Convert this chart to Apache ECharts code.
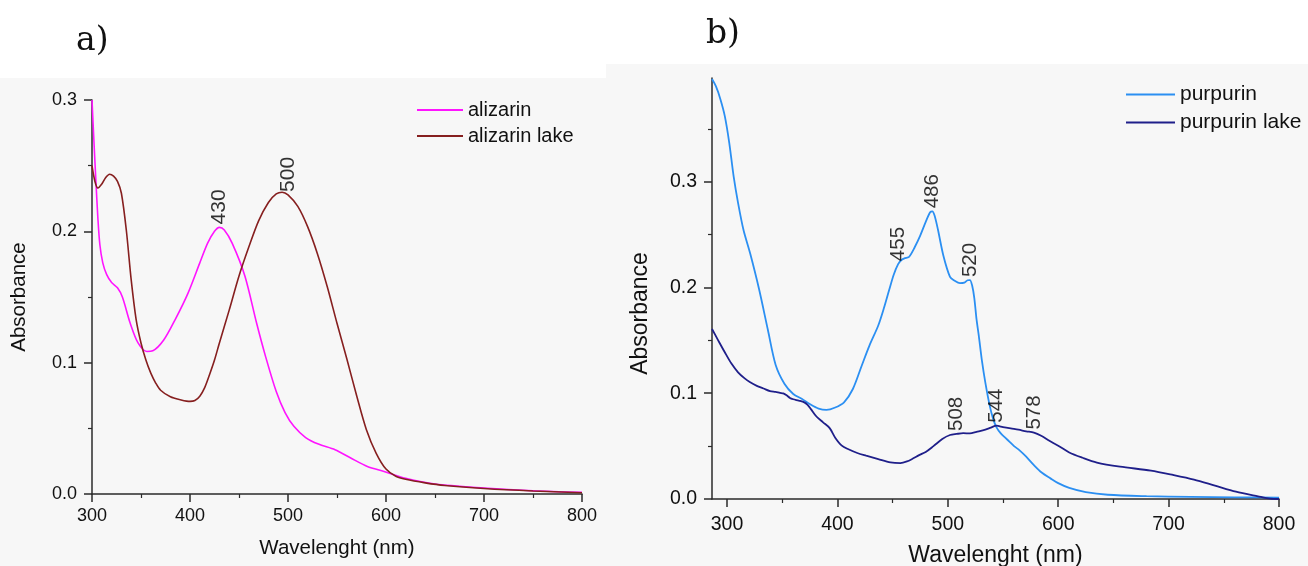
<!DOCTYPE html>
<html>
<head>
<meta charset="utf-8">
<title>UV-Vis absorption spectra</title>
<script src="https://cdn.jsdelivr.net/npm/echarts@6/dist/echarts.min.js"></script>
<style>
  html, body { margin: 0; padding: 0; background: #ffffff; }
  #chart { width: 1308px; height: 566px; }
</style>
</head>
<body>
<div id="chart"></div>
<script>
// ---- panel a) alizarin ----
const alizarinWl  = [300, 302, 304, 306, 308, 311, 315, 320, 326, 331, 339, 347, 356, 362, 373, 385, 398, 410, 418, 425, 430, 435, 443, 456, 468, 477, 488, 497, 506, 518, 531, 548, 564, 581, 598, 620, 650, 700, 750, 800];
const alizarinAbs = [0.300, 0.268, 0.238, 0.210, 0.190, 0.176, 0.167, 0.161, 0.157, 0.150, 0.130, 0.115, 0.1085, 0.109, 0.117, 0.133, 0.153, 0.176, 0.191, 0.200, 0.203, 0.201, 0.191, 0.166, 0.130, 0.105, 0.078, 0.062, 0.0515, 0.043, 0.038, 0.0337, 0.0274, 0.021, 0.0172, 0.012, 0.0076, 0.0046, 0.0025, 0.0013];

const alizarinLakeWl  = [300, 303, 306, 310, 314, 318, 322, 326, 330, 335, 340, 345, 350, 355, 360, 365, 370, 380, 390, 400, 405, 410, 415, 420, 425, 430, 440, 450, 460, 470, 480, 488, 494, 500, 510, 520, 530, 540, 550, 560, 570, 580, 590, 600, 610, 620, 640, 660, 700, 750, 800];
const alizarinLakeAbs = [0.250, 0.238, 0.233, 0.236, 0.241, 0.2435, 0.242, 0.238, 0.229, 0.201, 0.163, 0.133, 0.115, 0.102, 0.092, 0.0845, 0.079, 0.074, 0.0718, 0.0705, 0.0712, 0.0745, 0.081, 0.091, 0.102, 0.115, 0.140, 0.166, 0.188, 0.208, 0.222, 0.2285, 0.2298, 0.2277, 0.219, 0.2036, 0.183, 0.158, 0.130, 0.103, 0.075, 0.049, 0.031, 0.019, 0.0135, 0.0112, 0.0085, 0.0065, 0.0042, 0.0023, 0.001];

// ---- panel b) purpurin ----
const purpurinWl  = [286.4, 290, 294, 298, 302, 306, 310, 315, 321, 329, 337, 344, 352, 360, 368, 375, 383, 390, 398, 406, 414, 422, 429, 437, 442, 447, 451, 455, 458, 462, 465, 470, 475, 480, 484, 486, 488, 491, 496, 502, 506, 511, 515, 518, 520, 522, 524, 526, 528, 531, 534, 538, 541, 544, 548, 552, 556, 560, 565, 571, 578, 585, 593, 600, 610, 625, 645, 680, 720, 760, 800];
const purpurinAbs = [0.397, 0.390, 0.378, 0.362, 0.337, 0.305, 0.280, 0.254, 0.232, 0.1985, 0.160, 0.127, 0.109, 0.0993, 0.0945, 0.0898, 0.0855, 0.0842, 0.0865, 0.0914, 0.104, 0.126, 0.145, 0.164, 0.180, 0.198, 0.212, 0.222, 0.226, 0.228, 0.229, 0.238, 0.249, 0.262, 0.271, 0.272, 0.268, 0.255, 0.230, 0.210, 0.2065, 0.204, 0.2045, 0.2068, 0.207, 0.202, 0.190, 0.170, 0.155, 0.130, 0.110, 0.088, 0.076, 0.068, 0.062, 0.058, 0.054, 0.050, 0.046, 0.040, 0.032, 0.025, 0.0195, 0.015, 0.0105, 0.0065, 0.004, 0.0027, 0.002, 0.0016, 0.0013];

const purpurinLakeWl  = [286.4, 292, 298, 304, 310, 316, 321, 327, 333, 339, 344, 348, 351, 354, 357, 360, 365, 370, 373, 376, 381, 387, 393, 398, 404, 410, 418, 426, 437, 448, 457, 463, 468, 474, 480, 487, 495, 502, 508, 514, 520, 526, 534, 539, 544, 550, 557, 564, 571, 578, 585, 592, 600, 610, 622, 635, 656, 684, 704, 723, 742, 761, 781, 792, 800];
const purpurinLakeAbs = [0.1607, 0.150, 0.1387, 0.128, 0.1198, 0.114, 0.1103, 0.107, 0.1045, 0.102, 0.1012, 0.1003, 0.0998, 0.098, 0.0955, 0.0943, 0.093, 0.0914, 0.089, 0.085, 0.078, 0.0725, 0.067, 0.058, 0.0504, 0.047, 0.0435, 0.041, 0.0378, 0.0347, 0.0340, 0.0355, 0.038, 0.0415, 0.0445, 0.050, 0.0567, 0.0605, 0.0615, 0.0622, 0.062, 0.0635, 0.0656, 0.0675, 0.0693, 0.068, 0.0667, 0.0655, 0.064, 0.0628, 0.0595, 0.055, 0.0504, 0.044, 0.039, 0.0345, 0.0306, 0.0268, 0.0227, 0.0183, 0.0126, 0.0069, 0.0025, 0.0003, 0.0];

// band maxima marked on each spectrum (nm)
const alizarinPeaks     = [430];
const alizarinLakePeaks = [500];
const purpurinPeaks     = [455, 486, 520];
const purpurinLakePeaks = [508, 544, 578];

// tick labels
const xTicks      = [300, 400, 500, 600, 700, 800];
const xMinorTicks = [350, 450, 550, 650, 750];
const yTicksA      = [0.0, 0.1, 0.2, 0.3];
const yMinorTicksA = [0.05, 0.15, 0.25];
const yTicksB      = [0.0, 0.1, 0.2, 0.3];
const yMinorTicksB = [0.05, 0.15, 0.25, 0.35];

const pairs = (xs, ys) => xs.map((x, i) => [x, ys[i]]);
const peakPoints = (peaks, xs, ys) => peaks.map(p => [p, ys[xs.indexOf(p)]]);

const FONT = '"Liberation Sans", Arial, sans-serif';
const SERIF = '"DejaVu Serif", "Liberation Serif", serif';
const AXIS_COLOR = '#2b2b2b';
const TEXT_COLOR = '#111111';

function mainXAxis(gridIndex, min, fontSize, margin, nameSize, nameGap) {
  return {
    type: 'value', gridIndex, min, max: 800,
    axisLine: { show: true, onZero: false, lineStyle: { color: AXIS_COLOR, width: 1.5 } },
    axisTick: { show: true, length: 8, customValues: xTicks, lineStyle: { color: AXIS_COLOR, width: 1.5 } },
    axisLabel: { customValues: xTicks, fontSize, margin, color: TEXT_COLOR, fontFamily: FONT },
    splitLine: { show: false },
    name: 'Wavelenght (nm)', nameLocation: 'middle', nameGap,
    nameTextStyle: { fontSize: nameSize, color: TEXT_COLOR, fontFamily: FONT }
  };
}
function minorXAxis(gridIndex, min) {
  return {
    type: 'value', gridIndex, min, max: 800, position: 'bottom',
    axisLine: { show: false },
    axisTick: { show: true, length: 4, customValues: xMinorTicks, lineStyle: { color: AXIS_COLOR, width: 1.2 } },
    axisLabel: { show: false }, splitLine: { show: false }
  };
}
function mainYAxis(gridIndex, max, ticks, fontSize, margin, nameSize, nameGap, namePadding) {
  return {
    type: 'value', gridIndex, min: 0, max,
    axisLine: { show: true, onZero: false, lineStyle: { color: AXIS_COLOR, width: 1.5 } },
    axisTick: { show: true, length: 8, customValues: ticks, lineStyle: { color: AXIS_COLOR, width: 1.5 } },
    axisLabel: { customValues: ticks, fontSize, margin, color: TEXT_COLOR, fontFamily: FONT,
                 formatter: v => v.toFixed(1) },
    splitLine: { show: false },
    name: 'Absorbance', nameLocation: 'middle', nameGap, nameRotate: 90,
    nameTextStyle: { fontSize: nameSize, color: TEXT_COLOR, fontFamily: FONT, padding: namePadding }
  };
}
function minorYAxis(gridIndex, max, ticks) {
  return {
    type: 'value', gridIndex, min: 0, max, position: 'left',
    axisLine: { show: false },
    axisTick: { show: true, length: 4, customValues: ticks, lineStyle: { color: AXIS_COLOR, width: 1.2 } },
    axisLabel: { show: false }, splitLine: { show: false }
  };
}
function spectrum(name, xs, ys, axisIndex, color, width) {
  return {
    type: 'line', name, xAxisIndex: axisIndex, yAxisIndex: axisIndex,
    data: pairs(xs, ys), showSymbol: false, symbol: 'none',
    smooth: 0.3,
    lineStyle: { color, width }, itemStyle: { color },
    z: 3
  };
}
function peakLabels(peaks, xs, ys, axisIndex, fontSize) {
  return {
    type: 'scatter', xAxisIndex: axisIndex, yAxisIndex: axisIndex,
    data: peakPoints(peaks, xs, ys), symbolSize: 0, silent: true, z: 4,
    label: {
      show: true, position: 'top', distance: 3, rotate: 90,
      align: 'left', verticalAlign: 'middle',
      formatter: p => String(p.value[0]),
      fontSize, color: '#000000', fontFamily: FONT
    }
  };
}

const chart = echarts.init(document.getElementById('chart'), null, { renderer: 'canvas' });

chart.setOption({
  animation: false,
  backgroundColor: '#ffffff',
  graphic: [
    { type: 'rect', z: -10, silent: true, shape: { x: 0, y: 78, width: 606, height: 488 }, style: { fill: '#f7f7f7' } },
    { type: 'rect', z: -10, silent: true, shape: { x: 606, y: 64, width: 702, height: 502 }, style: { fill: '#f7f7f7' } },
    { type: 'text', left: 76, top: 25, style: { text: 'a)', fontSize: 33, fontFamily: SERIF, fill: '#111' } },
    { type: 'text', left: 706, top: 18, style: { text: 'b)', fontSize: 33, fontFamily: SERIF, fill: '#111' } }
  ],
  grid: [
    { left: 92, top: 100, width: 490, height: 394, outerBoundsMode: 'none' },
    { left: 712, top: 78, width: 567, height: 421, outerBoundsMode: 'none' }
  ],
  xAxis: [
    mainXAxis(0, 300, 18, 13, 20.5, 44),
    mainXAxis(1, 286.4, 19.5, 16, 23, 45),
    minorXAxis(0, 300),
    minorXAxis(1, 286.4)
  ],
  yAxis: [
    mainYAxis(0, 0.3, yTicksA, 18, 15, 20.5, 62, [0, 0, 0, 0]),
    mainYAxis(1, 0.398, yTicksB, 19.5, 15, 23, 60, [0, 50, 0, 0]),
    minorYAxis(0, 0.3, yMinorTicksA),
    minorYAxis(1, 0.398, yMinorTicksB)
  ],
  legend: [
    {
      data: ['alizarin', 'alizarin lake'], orient: 'vertical',
      left: 417, top: 100, padding: 0, icon: 'rect',
      itemWidth: 46, itemHeight: 2, itemGap: 6,
      textStyle: { fontSize: 20, color: TEXT_COLOR, fontFamily: FONT },
      selectedMode: false
    },
    {
      data: ['purpurin', 'purpurin lake'], orient: 'vertical',
      left: 1126, top: 84, padding: 0, icon: 'rect',
      itemWidth: 49, itemHeight: 2, itemGap: 7,
      textStyle: { fontSize: 21, color: TEXT_COLOR, fontFamily: FONT },
      selectedMode: false
    }
  ],
  series: [
    spectrum('alizarin', alizarinWl, alizarinAbs, 0, '#ff14ff', 1.6),
    spectrum('alizarin lake', alizarinLakeWl, alizarinLakeAbs, 0, '#861f1f', 1.6),
    spectrum('purpurin', purpurinWl, purpurinAbs, 1, '#2b8ff2', 1.8),
    spectrum('purpurin lake', purpurinLakeWl, purpurinLakeAbs, 1, '#1f1f8a', 1.8),
    peakLabels(alizarinPeaks, alizarinWl, alizarinAbs, 0, 21),
    peakLabels(alizarinLakePeaks, alizarinLakeWl, alizarinLakeAbs, 0, 21),
    peakLabels(purpurinPeaks, purpurinWl, purpurinAbs, 1, 20.5),
    peakLabels(purpurinLakePeaks, purpurinLakeWl, purpurinLakeAbs, 1, 20.5)
  ]
});
</script>
</body>
</html>
